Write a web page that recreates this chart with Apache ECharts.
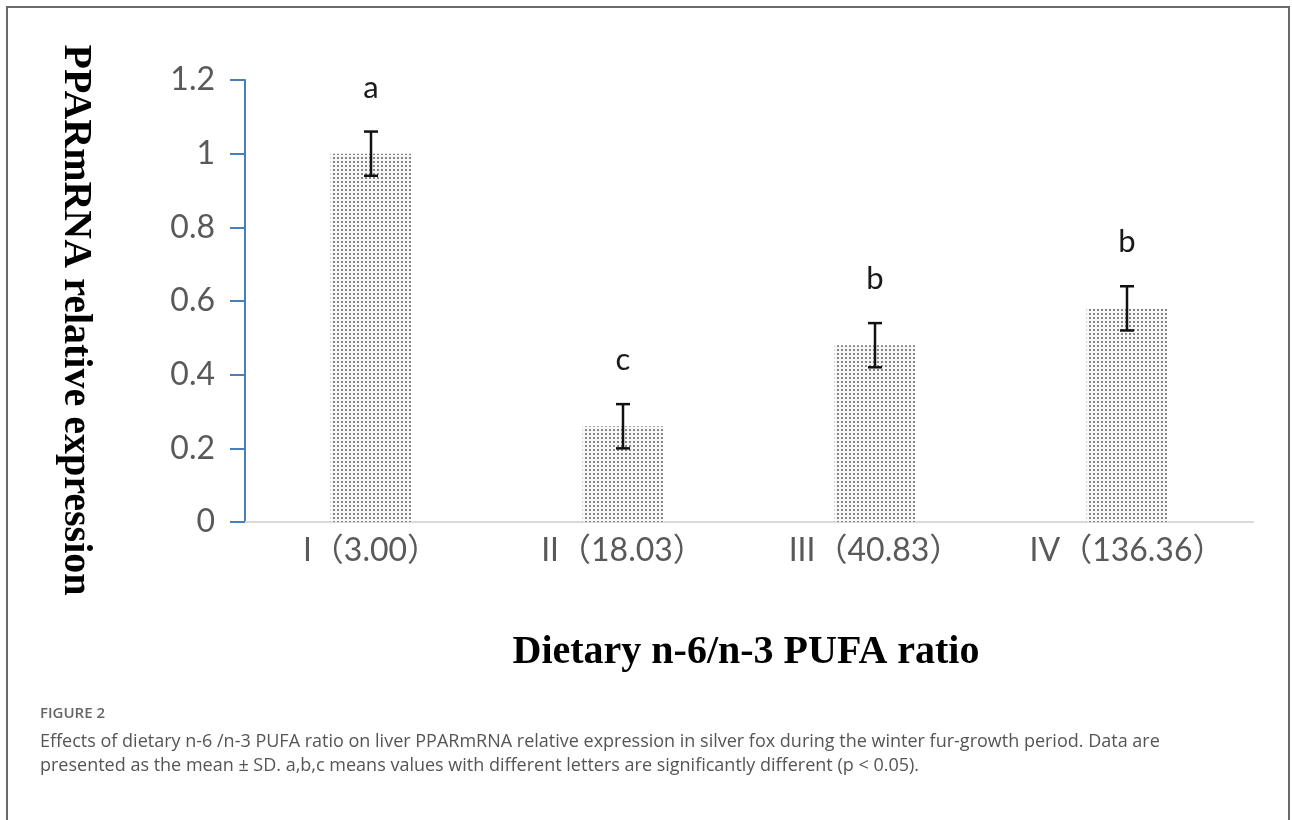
<!DOCTYPE html>
<html>
<head>
<meta charset="utf-8">
<script src="https://cdn.jsdelivr.net/npm/echarts@6/dist/echarts.min.js"></script>
<style>
html,body{margin:0;padding:0;background:#fff;}
#frame{position:absolute;left:6px;top:6px;width:1284px;height:830px;border-left:2px solid #6a6a6a;border-top:2px solid #6a6a6a;border-right:2px solid #6a6a6a;box-sizing:border-box;}
#chart{position:absolute;left:0;top:0;width:1292px;height:820px;}
</style>
</head>
<body>
<div id="frame"></div>
<div id="chart"></div>
<script>
const categories = ['I（3.00）', 'II（18.03）', 'III（40.83）', 'IV（136.36）'];
const means = [1.0, 0.26, 0.48, 0.58];
const sds = [0.06, 0.06, 0.06, 0.06];
const letters = ['a', 'c', 'b', 'b'];
const yTicks = { min: 0, max: 1.2, interval: 0.2 };
const yTitle = 'PPARmRNA relative expression';
const xTitle = 'Dietary n-6/n-3 PUFA ratio';
const figLabel = 'FIGURE 2';
const captionLines = [
  'Effects of dietary n-6 /n-3 PUFA ratio on liver PPARmRNA relative expression in silver fox during the winter fur-growth period. Data are',
  'presented as the mean \u00b1 SD. a,b,c means values with different letters are significantly different (p < 0.05).'
];

// dotted pattern
const pat = document.createElement('canvas');
pat.width = 4; pat.height = 4;
const pctx = pat.getContext('2d');
pctx.fillStyle = '#f7f7f7';
pctx.fillRect(0, 0, 4, 4);
pctx.fillStyle = '#858585';
pctx.fillRect(1, 1, 2, 2);

const chart = echarts.init(document.getElementById('chart'), null, { renderer: 'canvas' });

const errData = means.map((m, i) => [i, m - sds[i], m + sds[i], letters[i]]);

chart.setOption({
  animation: false,
  grid: { left: 245, right: 39, top: 80, bottom: 298 },
  xAxis: {
    type: 'category',
    data: categories,
    axisLine: { lineStyle: { color: '#d9d9d9', width: 2 } },
    axisTick: { show: false },
    axisLabel: { interval: 0, hideOverlap: false, color: '#595959', fontSize: 32, fontFamily: 'Lato, "Noto Sans CJK SC"', margin: 13 }
  },
  yAxis: {
    type: 'value',
    min: yTicks.min, max: yTicks.max, interval: yTicks.interval,
    axisLine: { show: true, lineStyle: { color: '#4a7ebb', width: 2 } },
    axisTick: { show: true, length: 15, lineStyle: { color: '#4a7ebb', width: 2 } },
    splitLine: { show: false },
    axisLabel: { color: '#595959', fontSize: 32, fontFamily: 'Lato', margin: 30 }
  },
  series: [
    {
      type: 'bar',
      data: means,
      barWidth: '32%',
      itemStyle: { color: { image: pat, repeat: 'repeat' } }
    },
    {
      type: 'custom',
      data: errData,
      z: 10,
      renderItem: function (params, api) {
        const x = api.value(0);
        const lo = api.coord([x, api.value(1)]);
        const hi = api.coord([x, api.value(2)]);
        const cap = 7;
        const st = { stroke: '#111', lineWidth: 2.5 };
        return {
          type: 'group',
          children: [
            { type: 'line', shape: { x1: hi[0], y1: hi[1], x2: lo[0], y2: lo[1] }, style: st },
            { type: 'line', shape: { x1: hi[0] - cap, y1: hi[1], x2: hi[0] + cap, y2: hi[1] }, style: st },
            { type: 'line', shape: { x1: lo[0] - cap, y1: lo[1], x2: lo[0] + cap, y2: lo[1] }, style: st },
            { type: 'text', x: hi[0], y: hi[1] - 44, style: { text: api.value(3), fontSize: 31, fontFamily: 'Lato', fill: '#1a1a1a', align: 'center', verticalAlign: 'middle' } }
          ]
        };
      }
    }
  ],
  graphic: [
    { type: 'text', x: 75, y: 320, rotation: -Math.PI / 2, style: { text: yTitle, font: 'bold 40px "Liberation Serif"', fill: '#000', align: 'center', verticalAlign: 'middle' } },
    { type: 'text', x: 746, y: 653, style: { text: xTitle, font: 'bold 40px "Liberation Serif"', fill: '#000', align: 'center', verticalAlign: 'middle' } },
    { type: 'text', left: 40, top: 706, style: { text: figLabel, font: '600 15px "Open Sans"', fill: '#666' } },
    { type: 'text', left: 40, top: 733, style: { text: captionLines[0], font: '18px "Open Sans"', fill: '#555' } },
    { type: 'text', left: 40, top: 757, style: { text: captionLines[1], font: '18px "Open Sans"', fill: '#555' } }
  ]
});
</script>
</body>
</html>
